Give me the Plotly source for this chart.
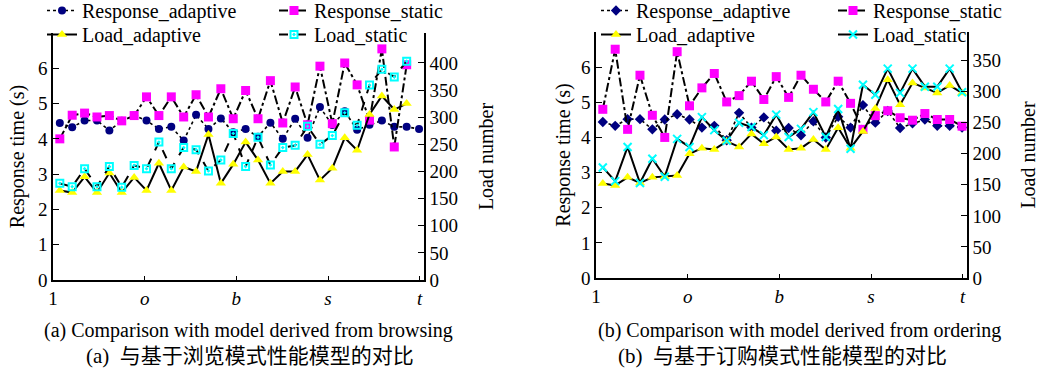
import plotly.graph_objects as go

# ---------------- data ----------------
samples = list(range(1, 31))
x_tick_labels = ["1", "<i>o</i>", "<i>b</i>", "<i>s</i>", "<i>t</i>"]
x_tick_pos = [0.45, 7.85, 15.25, 22.65, 30.05]

# (a) model derived from browsing
a_resp_adaptive = [4.45, 4.33, 4.52, 4.52, 4.24, 4.51, 4.66, 4.52, 4.28, 4.34,
                   3.95, 4.68, 4.28, 4.58, 4.19, 4.28, 4.06, 4.46, 4.00, 4.57,
                   4.03, 4.90, 4.39, 4.78, 4.26, 4.40, 4.52, 4.34, 4.34, 4.28]
a_resp_static = [4.00, 4.67, 4.73, 4.62, 4.66, 4.51, 4.66, 5.19, 4.66, 5.19,
                 4.62, 5.25, 4.62, 5.42, 4.57, 5.37, 4.57, 5.65, 4.45, 5.47,
                 4.40, 6.06, 4.43, 6.15, 5.53, 4.53, 6.55, 3.77, 6.10]
a_load_adaptive = [165, 161, 190, 161, 197, 161, 189, 165, 215, 165,
                   208, 200, 268, 178, 213, 254, 221, 178, 200, 200,
                   231, 184, 206, 262, 239, 305, 339, 314, 325]
a_load_static = [178, 172, 205, 172, 209, 171, 211, 205, 254, 205,
                 244, 240, 201, 221, 270, 209, 263, 212, 244, 248,
                 283, 250, 266, 308, 285, 359, 388, 374, 403]

# (b) model derived from ordering
b_resp_adaptive = [4.44, 4.33, 4.52, 4.52, 4.23, 4.51, 4.66, 4.51, 4.28, 4.33,
                   3.92, 4.70, 4.28, 4.57, 4.19, 4.27, 4.06, 4.46, 4.00, 4.59,
                   4.28, 4.92, 4.42, 4.75, 4.27, 4.40, 4.51, 4.33, 4.33, 4.28]
b_resp_static = [4.80, 6.51, 4.23, 5.77, 4.63, 4.00, 6.44, 4.90, 5.41, 5.82,
                 5.01, 5.19, 5.60, 5.08, 5.73, 5.14, 5.77, 5.37, 5.01, 5.60,
                 4.97, 4.23, 4.62, 4.76, 4.56, 4.49, 4.68, 4.51, 4.51, 4.32]
b_load_adaptive = [152, 149, 162, 153, 162, 163, 165, 200, 209, 207,
                   220, 211, 232, 216, 227, 207, 209, 223, 207, 242,
                   209, 236, 273, 319, 279, 314, 306, 298, 310, 298]
b_load_static = [178, 156, 211, 153, 192, 163, 224, 211, 259, 238,
                 221, 250, 243, 230, 263, 227, 240, 267, 227, 272,
                 208, 311, 295, 337, 298, 337, 308, 308, 337, 299]

FONT = "Liberation Serif, Noto Sans CJK SC, serif"
W, H = 1046, 377
NAVY, MAG, YEL, CYAN = "#000080", "#ff00ff", "#ffff00", "#00ffff"

fig = go.Figure()

def add_panel(xa, ya_l, ya_r, legs, ra, rs, la, ls, ra_sym, ls_sym, ls_dash, ls_size):
    fig.add_trace(go.Scatter(x=samples[:len(ra)], y=ra, name="Response_adaptive",
                             mode="lines+markers", xaxis=xa, yaxis=ya_l, legend=legs[0],
                             showlegend=True,
                             line=dict(color="black", width=1.6, dash="dot"),
                             marker=dict(symbol=ra_sym, size=8, color=NAVY)))
    fig.add_trace(go.Scatter(x=samples[:len(rs)], y=rs, name="Response_static",
                             mode="lines+markers", xaxis=xa, yaxis=ya_l, legend=legs[1],
                             showlegend=True,
                             line=dict(color="black", width=2, dash="dashdot"),
                             marker=dict(symbol="square", size=9, color=MAG)))
    fig.add_trace(go.Scatter(x=samples[:len(la)], y=la, name="Load_adaptive",
                             mode="lines+markers", xaxis=xa, yaxis=ya_r, legend=legs[2],
                             showlegend=True,
                             line=dict(color="black", width=2),
                             marker=dict(symbol="triangle-up", size=9, color=YEL)))
    fig.add_trace(go.Scatter(x=samples[:len(ls)], y=ls, name="Load_static",
                             mode="lines+markers", xaxis=xa, yaxis=ya_r, legend=legs[3],
                             showlegend=True,
                             line=dict(color="black", width=2, dash=ls_dash),
                             marker=dict(symbol=ls_sym, size=ls_size, color=CYAN,
                                         line=dict(color=CYAN, width=2))))

add_panel("x", "y", "y2", ["legend", "legend2", "legend3", "legend4"],
          a_resp_adaptive, a_resp_static, a_load_adaptive, a_load_static,
          "circle", "square-open-dot", "dash", 7)
add_panel("x2", "y3", "y4", ["legend5", "legend6", "legend7", "legend8"],
          b_resp_adaptive, b_resp_static, b_load_adaptive, b_load_static,
          "diamond", "x-thin-open", "solid", 8)

axis_common = dict(showline=True, linecolor="black", linewidth=1.5, ticks="inside",
                   tickcolor="black", ticklen=6, showgrid=False, zeroline=False,
                   tickfont=dict(family=FONT, size=19, color="black"))

def xax(domain, anchor):
    return dict(axis_common, domain=domain, anchor=anchor, range=[0.45, 30.4],
                tickvals=x_tick_pos, ticktext=x_tick_labels, ticklen=4)

yb_a, yt_a = (H - 280) / H, (H - 33) / H
yb_b, yt_b = (H - 278) / H, (H - 32) / H

fig.update_layout(
    width=W, height=H, margin=dict(l=0, r=0, t=0, b=0, autoexpand=False),
    showlegend=True,
    paper_bgcolor="white", plot_bgcolor="rgba(0,0,0,0)",
    font=dict(family=FONT, size=20, color="black"),
    xaxis=xax([53 / W, 424 / W], "y"),
    yaxis=dict(axis_common, domain=[yb_a, yt_a], anchor="x", range=[0, 7],
               tickvals=list(range(7)),
               title=dict(text="Response time (s)", standoff=8, font=dict(size=20))),
    yaxis2=dict(axis_common, overlaying="y", side="right", anchor="x", range=[0, 455],
                tickvals=list(range(0, 401, 50)),
                title=dict(text="Load number", standoff=22, font=dict(size=20))),
    xaxis2=xax([596 / W, 967 / W], "y3"),
    yaxis3=dict(axis_common, domain=[yb_b, yt_b], anchor="x2", range=[0, 7],
                tickvals=list(range(7)),
                title=dict(text="Response time (s)", standoff=5, font=dict(size=20))),
    yaxis4=dict(axis_common, overlaying="y3", side="right", anchor="x2", range=[0, 396],
                tickvals=list(range(0, 351, 50)),
                title=dict(text="Load number", standoff=21, font=dict(size=20))),
)

def leg(xpx, row):
    top = -9 if row == 0 else 15
    return dict(x=xpx / W, y=1 - top / H, xanchor="left", yanchor="top",
                bgcolor="rgba(0,0,0,0)", borderwidth=0,
                font=dict(family=FONT, size=20), orientation="v")

fig.update_layout(
    legend=leg(42, 0), legend2=leg(274, 0), legend3=leg(42, 1), legend4=leg(274, 1),
    legend5=leg(596, 0), legend6=leg(833, 0), legend7=leg(596, 1), legend8=leg(833, 1),
)

captions = [
    (248, 330, "(a) Comparison with model derived from browsing", 20),
    (250, 356, "(a)  与基于浏览模式性能模型的对比", 21),
    (799, 330, "(b) Comparison with model derived from ordering", 20),
    (782, 356, "(b)  与基于订购模式性能模型的对比", 21),
]
for cx, cy, txt, fs in captions:
    fig.add_annotation(x=cx / W, y=1 - cy / H, xref="paper", yref="paper",
                       text=txt, showarrow=False, xanchor="center", yanchor="middle",
                       font=dict(family=FONT, size=fs, color="black"))

fig.write_html("out.html", config={"displayModeBar": False},
               post_script="document.body.style.margin='0px';document.body.style.overflow='hidden';")
